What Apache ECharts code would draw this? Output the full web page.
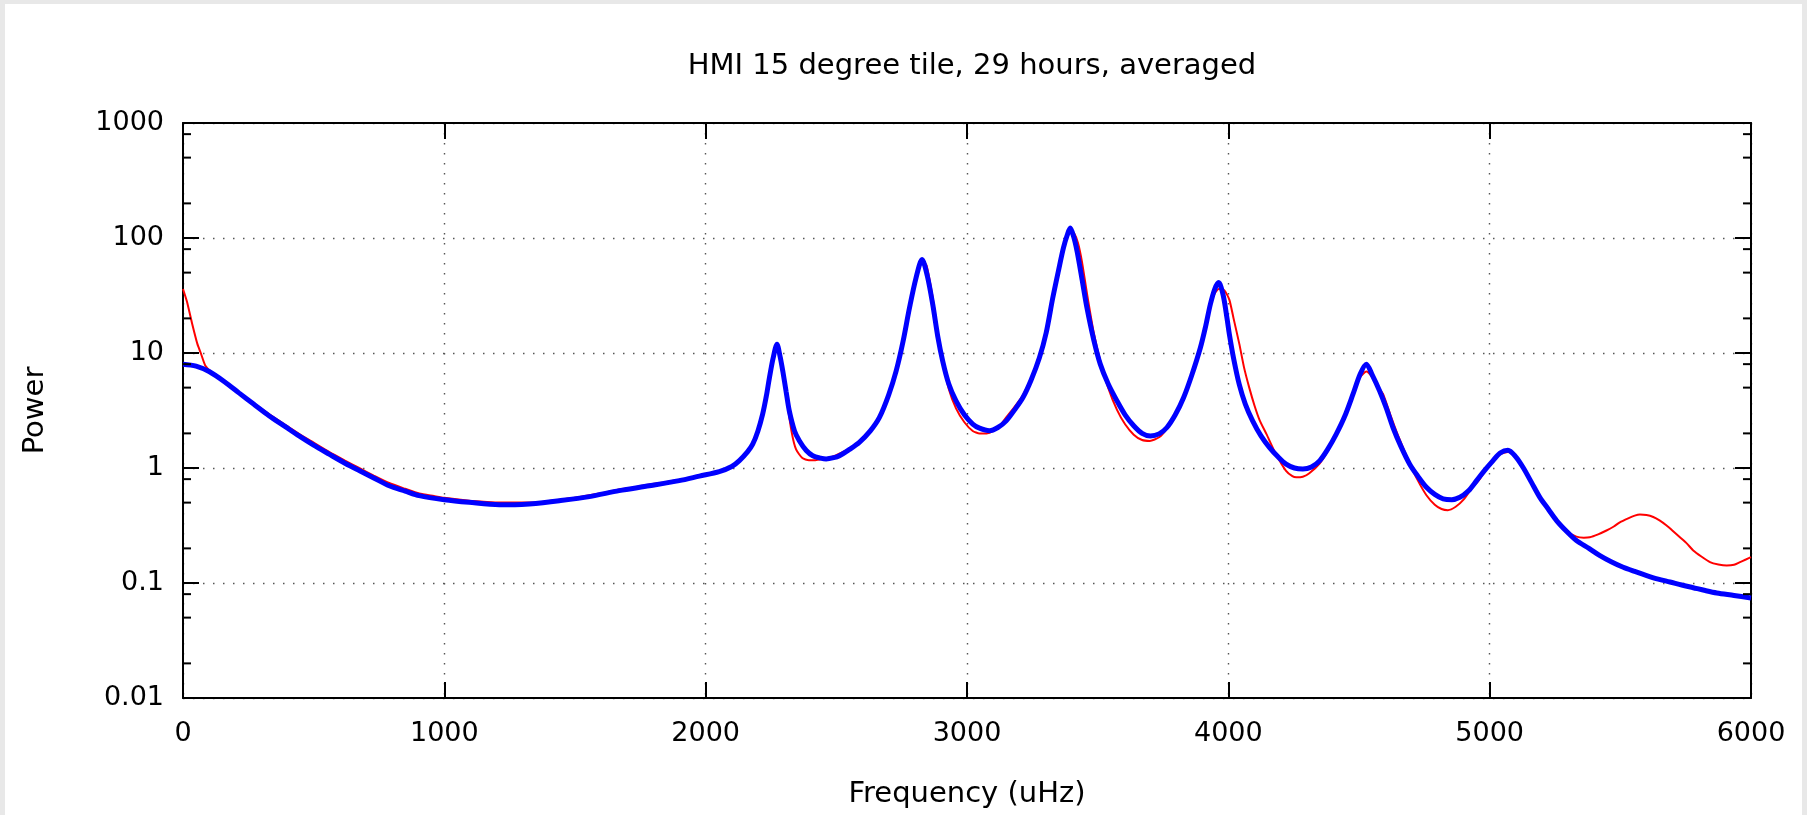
<!DOCTYPE html>
<html>
<head>
<meta charset="utf-8">
<script src="https://cdn.jsdelivr.net/npm/echarts@6/dist/echarts.min.js"></script>
<style>
  html, body { margin: 0; padding: 0; background: #e8e8e8; width: 1807px; height: 815px; overflow: hidden; }
  #chart { position: absolute; left: 5px; top: 4px; width: 1797px; height: 811px; background: #ffffff; }
</style>
</head>
<body>
<div id="chart"></div>
<script>
// ---- data ----
const titleText = 'HMI 15 degree tile, 29 hours, averaged';
const xName = 'Frequency (uHz)';
const yName = 'Power';
const xTicks = [0, 1000, 2000, 3000, 4000, 5000, 6000];
const yTicks = [0.01, 0.1, 1, 10, 100, 1000];
const yMinorTicks = [0.02, 0.05, 0.08, 0.2, 0.5, 0.8, 2, 5, 8, 20, 50, 80, 200, 500, 800];

// smooth fit (blue)
const fitFreq = [0,50,100,160,214,270,329,390,444,500,559,620,674,730,789,850,904,1000,1095,1210,1270,1325,1440,1555,1669,1784,1899,1976,2052,2100,2129,2160,2180,2200,2218,2232,2244,2258,2273,2284,2295,2308,2320,2340,2359,2385,2410,2440,2461,2490,2512,2550,2588,2630,2665,2700,2729,2755,2780,2805,2828,2848,2869,2888,2907,2930,2958,2990,3022,3048,3086,3118,3150,3182,3214,3245,3277,3303,3328,3350,3369,3383,3395,3408,3421,3440,3459,3485,3510,3540,3574,3605,3638,3670,3702,3735,3765,3797,3829,3860,3893,3913,3931,3948,3963,3980,3995,4004,4020,4042,4065,4093,4125,4157,4190,4221,4253,4285,4318,4350,4380,4413,4445,4477,4505,4528,4550,4579,4605,4630,4660,4694,4725,4758,4790,4822,4855,4886,4918,4950,4980,5013,5040,5070,5100,5128,5160,5192,5224,5256,5295,5332,5380,5422,5465,5511,5555,5601,5645,5690,5735,5779,5825,5869,5935,6000];
const fitPower = [8.0,7.7,6.9,5.6,4.5,3.6,2.85,2.3,1.9,1.58,1.32,1.1,0.95,0.82,0.70,0.63,0.575,0.53,0.503,0.48,0.48,0.487,0.52,0.564,0.636,0.70,0.776,0.85,0.93,1.03,1.16,1.38,1.61,2.1,2.94,4.2,6.1,9.0,11.9,9.5,6.98,4.6,3.14,2.1,1.72,1.42,1.28,1.22,1.2,1.23,1.28,1.45,1.67,2.1,2.75,4.3,6.98,12.5,24.7,45,65,47,26.4,14,8.5,5.4,3.83,2.9,2.41,2.22,2.11,2.25,2.57,3.2,4.1,5.8,9.1,15,30,52,82,105,122,103,77,44,24.7,13,8.0,5.4,3.83,2.9,2.33,2.0,1.9,1.98,2.25,2.9,4.1,6.4,11.1,17,26.4,36,41,32,20,14.5,9,5.3,3.6,2.57,1.9,1.51,1.25,1.08,1.0,0.98,1.02,1.16,1.45,1.97,2.8,4.38,6.6,8.0,6.5,4.68,3.3,2.25,1.55,1.08,0.85,0.68,0.59,0.54,0.53,0.556,0.63,0.776,0.95,1.16,1.35,1.43,1.25,1.01,0.75,0.556,0.44,0.349,0.28,0.234,0.2,0.173,0.153,0.137,0.126,0.116,0.108,0.102,0.096,0.091,0.086,0.082,0.078,0.074];

// averaged spectrum (red)
const obsFreq = [0,15,35,55,68,85,110,160,214,270,329,390,444,500,559,620,674,730,789,850,904,960,1000,1095,1150,1210,1270,1325,1380,1440,1500,1555,1610,1669,1730,1784,1840,1899,1950,2000,2052,2100,2129,2160,2180,2200,2218,2232,2244,2258,2273,2285,2295,2310,2330,2346,2370,2395,2420,2450,2480,2520,2560,2600,2630,2665,2700,2729,2755,2780,2805,2828,2845,2869,2888,2907,2930,2958,2990,3022,3048,3075,3100,3130,3150,3182,3214,3245,3277,3303,3328,3350,3369,3383,3395,3410,3425,3440,3459,3485,3510,3540,3574,3605,3638,3670,3700,3735,3765,3797,3829,3860,3893,3913,3931,3948,3963,3985,4004,4020,4042,4060,4080,4100,4120,4146,4180,4220,4245,4260,4285,4310,4350,4380,4413,4445,4477,4505,4528,4550,4575,4592,4620,4650,4694,4725,4758,4790,4816,4840,4870,4900,4930,4962,4990,5013,5040,5070,5100,5128,5160,5192,5224,5256,5295,5332,5360,5383,5415,5447,5475,5498,5530,5555,5575,5600,5626,5650,5677,5700,5728,5755,5779,5810,5843,5875,5907,5935,5958,5980,6000];
const obsPower = [36,28,18,12,10,7.8,6.8,5.7,4.5,3.65,2.95,2.38,1.98,1.66,1.38,1.16,1.0,0.86,0.74,0.66,0.6,0.57,0.55,0.52,0.51,0.5,0.5,0.5,0.51,0.53,0.55,0.58,0.61,0.65,0.68,0.72,0.75,0.79,0.83,0.87,0.93,1.03,1.15,1.36,1.58,2.05,2.9,4.1,6.0,8.8,11.5,10.0,7.5,4.0,2.0,1.45,1.22,1.17,1.17,1.2,1.24,1.36,1.52,1.75,2.1,2.75,4.3,7.0,12.5,24,44,63,58,30,15,8.5,4.9,3.3,2.5,2.1,2.0,2.0,2.1,2.4,2.75,3.4,4.3,6.0,9.5,16,30,52,80,100,115,110,90,62,33,15,8.5,5.0,3.2,2.4,1.95,1.75,1.72,1.85,2.2,2.9,4.2,6.6,11.5,18,26,33,36,35,29,20,12,7.5,5.0,3.5,2.6,1.97,1.35,0.95,0.85,0.83,0.84,0.9,1.1,1.4,1.95,2.9,4.5,6.2,6.9,6.2,5.0,4.4,2.9,1.9,1.1,0.78,0.58,0.48,0.44,0.43,0.46,0.53,0.66,0.8,1.0,1.15,1.32,1.38,1.24,1.02,0.76,0.56,0.44,0.35,0.28,0.253,0.248,0.25,0.265,0.286,0.31,0.337,0.365,0.385,0.394,0.39,0.375,0.35,0.316,0.285,0.25,0.22,0.192,0.17,0.152,0.145,0.142,0.144,0.152,0.16,0.168];

// ---- build ----
const FONT = 'DejaVu Sans';
const fitData = fitFreq.map((f, i) => [f, fitPower[i]]);
const obsData = obsFreq.map((f, i) => [f, obsPower[i]]);
const minorData = yMinorTicks.map(v => [xTicks[0], v]);
const xMax = xTicks[xTicks.length - 1];
const fmtY = v => String(Number(v.toPrecision(3)));

const chart = echarts.init(document.getElementById('chart'), null, { renderer: 'canvas' });

const gridDots = { show: true, lineStyle: { color: '#555', width: 1.4, type: [1.5, 8.5] } };
const frameLine = { show: true, onZero: false, lineStyle: { color: '#000', width: 2 } };
const majorTick = { show: true, inside: true, length: 16, lineStyle: { color: '#000', width: 2 } };

chart.setOption({
  animation: false,
  backgroundColor: '#ffffff',
  title: {
    text: titleText,
    left: 962,
    textAlign: 'center',
    top: 43,
    textStyle: { fontFamily: FONT, fontSize: 29, fontWeight: 'normal', color: '#000' }
  },
  grid: { left: 178, right: 51, top: 119, bottom: 117, containLabel: false },
  xAxis: [
    {
      type: 'value', position: 'bottom', min: 0, max: 6000, interval: 1000, offset: 0,
      axisLine: frameLine, axisTick: majorTick,
      axisLabel: { color: '#000', fontFamily: FONT, fontSize: 27, margin: 22, formatter: v => String(v) },
      splitLine: gridDots,
      name: xName, nameLocation: 'middle', nameGap: 82,
      nameTextStyle: { color: '#000', fontFamily: FONT, fontSize: 29 }
    },
    {
      type: 'value', position: 'top', min: 0, max: 6000, interval: 1000, offset: 0,
      axisLine: frameLine, axisTick: majorTick,
      axisLabel: { show: false }, splitLine: { show: false }
    }
  ],
  yAxis: [
    {
      type: 'log', logBase: 10, position: 'left', min: 0.01, max: 1000, offset: 0,
      axisLine: frameLine, axisTick: majorTick,
      axisLabel: { color: '#000', fontFamily: FONT, fontSize: 27, margin: 19, formatter: fmtY },
      splitLine: gridDots, minorTick: { show: false },
      name: yName, nameLocation: 'middle', nameGap: 133, nameRotate: 90,
      nameTextStyle: { color: '#000', fontFamily: FONT, fontSize: 29 }
    },
    {
      type: 'log', logBase: 10, position: 'right', min: 0.01, max: 1000, offset: 0,
      axisLine: frameLine, axisTick: majorTick,
      axisLabel: { show: false }, splitLine: { show: false }, minorTick: { show: false }
    }
  ],
  series: [
    {
      name: 'averaged', type: 'line', xAxisIndex: 0, yAxisIndex: 0,
      data: obsData, showSymbol: false, smooth: 0.2,
      lineStyle: { color: '#ff0000', width: 2 }, z: 2
    },
    {
      name: 'fit', type: 'line', xAxisIndex: 0, yAxisIndex: 0,
      data: fitData, showSymbol: false, smooth: 0.3,
      lineStyle: { color: '#0000ff', width: 5 }, z: 3
    },
    {
      name: 'minor ticks', type: 'custom', xAxisIndex: 0, yAxisIndex: 0,
      data: minorData, silent: true, z: 5, clip: false,
      renderItem: (params, api) => {
        const p = api.coord([xTicks[0], api.value(1)]);
        const q = api.coord([xMax, api.value(1)]);
        return {
          type: 'group',
          children: [
            { type: 'line', shape: { x1: p[0], y1: p[1], x2: p[0] + 8, y2: p[1] }, style: { stroke: '#000', lineWidth: 2 } },
            { type: 'line', shape: { x1: q[0] - 8, y1: q[1], x2: q[0], y2: q[1] }, style: { stroke: '#000', lineWidth: 2 } }
          ]
        };
      }
    }
  ]
});
</script>
</body>
</html>
